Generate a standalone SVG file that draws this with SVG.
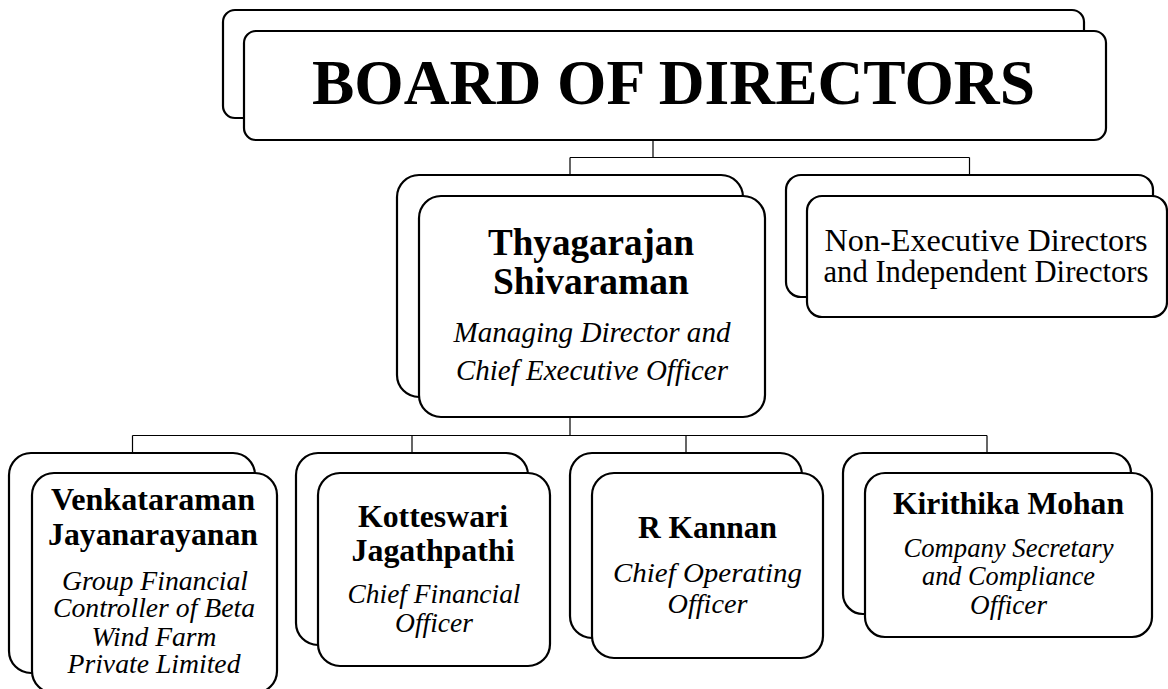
<svg xmlns="http://www.w3.org/2000/svg" width="1168" height="689" viewBox="0 0 1168 689">
<style>
.box{fill:#fff;stroke:#000;stroke-width:2.2}
.conn{fill:none;stroke:#000;stroke-width:1.2}
text{font-family:'Liberation Serif','Noto Serif','DejaVu Serif Condensed','DejaVu Serif',serif;fill:#000;text-anchor:middle}
.b{font-weight:bold}
.i{font-style:italic}
</style>
<rect width="1168" height="689" fill="#fff"/>
<g id="connectors">
<path class="conn" d="M653,140 V157.5 M570,157.5 H969.5 M570,157.5 V175 M969.5,157.5 V175"/>
<path class="conn" d="M570,417 V435.5 M132.5,435.5 H987 M132.5,435.5 V453 M412,435.5 V453 M686,435.5 V453 M987,435.5 V453"/>
</g>
<g id="board">
<rect class="box" x="223" y="10" width="861" height="108" rx="12"/>
<rect class="box" x="244" y="31" width="862" height="109" rx="12"/>
<text class="b" x="673.5" y="104" font-size="63" textLength="723" lengthAdjust="spacingAndGlyphs">BOARD OF DIRECTORS</text>
</g>
<g id="md">
<rect class="box" x="397" y="175" width="346" height="222" rx="22"/>
<rect class="box" x="419" y="196" width="346" height="221" rx="22"/>
<text class="b" x="591" y="255" font-size="37" textLength="206" lengthAdjust="spacingAndGlyphs">Thyagarajan</text>
<text class="b" x="591" y="294" font-size="37" textLength="196" lengthAdjust="spacingAndGlyphs">Shivaraman</text>
<text class="i" x="592" y="342" font-size="29" textLength="277" lengthAdjust="spacingAndGlyphs">Managing Director and</text>
<text class="i" x="592" y="380" font-size="29" textLength="272" lengthAdjust="spacingAndGlyphs">Chief Executive Officer</text>
</g>
<g id="nonexec">
<rect class="box" x="786" y="175" width="367" height="122" rx="15"/>
<rect class="box" x="807" y="196" width="360" height="121" rx="15"/>
<text x="986" y="251" font-size="31.5" textLength="323" lengthAdjust="spacingAndGlyphs">Non-Executive Directors</text>
<text x="986" y="282" font-size="31.5" textLength="325" lengthAdjust="spacingAndGlyphs">and Independent Directors</text>
</g>
<g id="gfc">
<rect class="box" x="9" y="453" width="246" height="220" rx="22"/>
<rect class="box" x="32" y="473" width="245" height="220" rx="22"/>
<text class="b" x="153" y="510" font-size="32" textLength="204" lengthAdjust="spacingAndGlyphs">Venkataraman</text>
<text class="b" x="153" y="545" font-size="32" textLength="210" lengthAdjust="spacingAndGlyphs">Jayanarayanan</text>
<text class="i" x="155" y="590" font-size="27.5" textLength="186" lengthAdjust="spacingAndGlyphs">Group Financial</text>
<text class="i" x="154" y="617" font-size="27.5" textLength="202" lengthAdjust="spacingAndGlyphs">Controller of Beta</text>
<text class="i" x="154" y="646" font-size="27.5" textLength="125" lengthAdjust="spacingAndGlyphs">Wind Farm</text>
<text class="i" x="154" y="673" font-size="27.5" textLength="173" lengthAdjust="spacingAndGlyphs">Private Limited</text>
</g>
<g id="cfo">
<rect class="box" x="296" y="453" width="232" height="192" rx="22"/>
<rect class="box" x="318" y="473" width="232" height="193" rx="22"/>
<text class="b" x="433" y="527" font-size="32" textLength="150" lengthAdjust="spacingAndGlyphs">Kotteswari</text>
<text class="b" x="433" y="561" font-size="32" textLength="163" lengthAdjust="spacingAndGlyphs">Jagathpathi</text>
<text class="i" x="434" y="603" font-size="27.5" textLength="173" lengthAdjust="spacingAndGlyphs">Chief Financial</text>
<text class="i" x="434" y="632" font-size="27.5" textLength="78" lengthAdjust="spacingAndGlyphs">Officer</text>
</g>
<g id="coo">
<rect class="box" x="570" y="453" width="232" height="185" rx="22"/>
<rect class="box" x="592" y="473" width="231" height="185" rx="22"/>
<text class="b" x="707.5" y="538" font-size="32" textLength="139" lengthAdjust="spacingAndGlyphs">R Kannan</text>
<text class="i" x="707.5" y="582" font-size="27.5" textLength="189" lengthAdjust="spacingAndGlyphs">Chief Operating</text>
<text class="i" x="707.5" y="613" font-size="27.5" textLength="80" lengthAdjust="spacingAndGlyphs">Officer</text>
</g>
<g id="cs">
<rect class="box" x="843" y="453" width="288" height="161" rx="20"/>
<rect class="box" x="865" y="473" width="287" height="164" rx="20"/>
<text class="b" x="1008.5" y="514" font-size="32" textLength="231" lengthAdjust="spacingAndGlyphs">Kirithika Mohan</text>
<text class="i" x="1008.5" y="557" font-size="27.5" textLength="210" lengthAdjust="spacingAndGlyphs">Company Secretary</text>
<text class="i" x="1008.5" y="585" font-size="27.5" textLength="173" lengthAdjust="spacingAndGlyphs">and Compliance</text>
<text class="i" x="1008.5" y="614" font-size="27.5" textLength="77" lengthAdjust="spacingAndGlyphs">Officer</text>
</g>
</svg>
